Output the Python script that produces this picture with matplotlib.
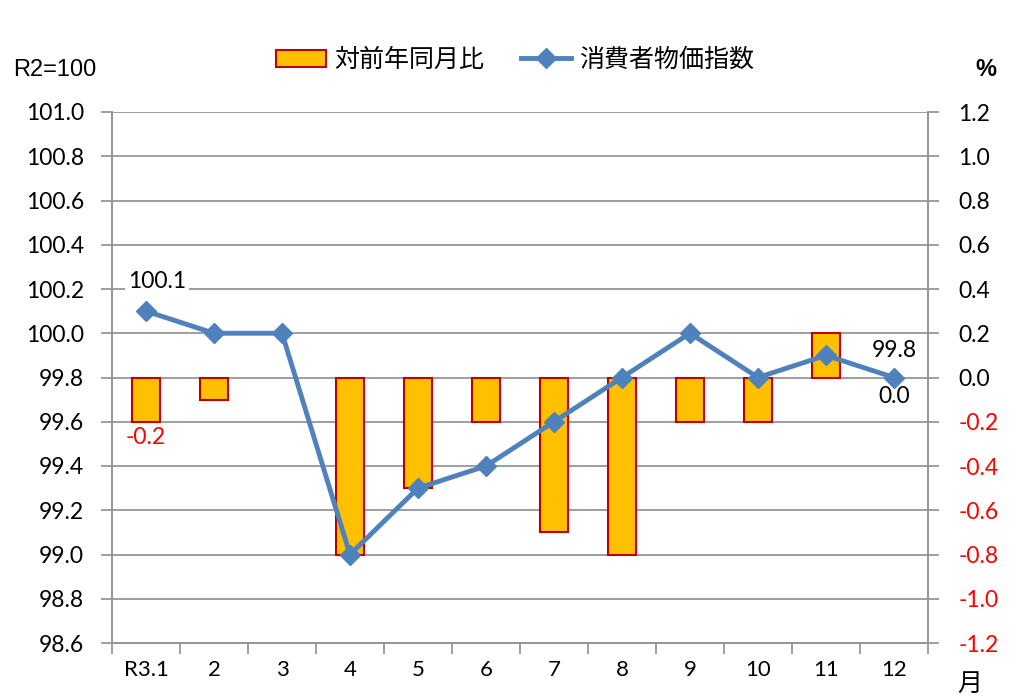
import matplotlib
matplotlib.use("Agg")
import matplotlib.pyplot as plt
import numpy as np

months = ["R3.1", "2", "3", "4", "5", "6", "7", "8", "9", "10", "11", "12"]
yoy = [-0.2, -0.1, 0.0, -0.8, -0.5, -0.2, -0.7, -0.8, -0.2, -0.2, 0.2, 0.0]
cpi = [100.1, 100.0, 100.0, 99.0, 99.3, 99.4, 99.6, 99.8, 100.0, 99.8, 99.9, 99.8]
left_ticks = [98.6, 98.8, 99.0, 99.2, 99.4, 99.6, 99.8, 100.0, 100.2, 100.4, 100.6, 100.8, 101.0]
right_ticks = [-1.2, -1.0, -0.8, -0.6, -0.4, -0.2, 0.0, 0.2, 0.4, 0.6, 0.8, 1.0, 1.2]

NUM = ["Lato", "DejaVu Sans"]
CJK = ["Noto Sans CJK JP", "DejaVu Sans"]
plt.rcParams['font.family'] = NUM

fig = plt.figure(figsize=(10.18, 6.98), dpi=100)
ax = fig.add_axes([112/1018, 55/698, (928-112)/1018, (643-112)/698])
ax2 = ax.twinx()

x = np.arange(len(months))
grid_c = "#969696"

# bars on right axis
bars = ax2.bar(x, yoy, width=0.41, color="#FFC000", edgecolor="#C00000", linewidth=1.5, zorder=2,
               label="対前年同月比")
for b, v in zip(bars, yoy):
    if v == 0:
        b.set_linewidth(0)
ax2.set_ylim(-1.2, 1.2)
ax2.set_yticks(right_ticks)
ax2.set_yticklabels([f"{v:.1f}" for v in right_ticks])
for t, v in zip(ax2.get_yticklabels(), right_ticks):
    if v < 0:
        t.set_color("#FF0000")

# line on left axis
ax.set_zorder(ax2.get_zorder() + 1)
ax.patch.set_visible(False)
line, = ax.plot(x, cpi, color="#4F81BD", linewidth=3.5, marker="D", markersize=10,
                markerfacecolor="#4F81BD", markeredgecolor="#4F81BD", zorder=5, label="消費者物価指数")
ax.set_ylim(98.6, 101.0)
ax.set_yticks(left_ticks)
ax.set_yticklabels([f"{v:.1f}" for v in left_ticks])
ax.set_xlim(-0.5, len(months) - 0.5)

# gridlines drawn on the bar axis (behind)
for v in right_ticks:
    ax2.axhline(v, color=grid_c, linewidth=1.3, zorder=0)

ax.set_xticks(x)
ax.set_xticklabels(months)
ax.set_xticks(np.arange(-0.5, len(months)), minor=True)
ax.tick_params(axis="x", which="major", length=0, labelsize=16, pad=12)
ax.tick_params(axis="x", which="minor", length=8, width=1.3, color=grid_c)
ax.tick_params(axis="y", length=8, width=1.3, color=grid_c, labelsize=16.5, pad=12)
ax2.tick_params(axis="y", length=8, width=1.3, color=grid_c, labelsize=16.5, pad=14)

for a in (ax, ax2):
    a.spines["top"].set_visible(False)
    for s in ("left", "right", "bottom"):
        a.spines[s].set_color(grid_c)
        a.spines[s].set_linewidth(1.3)

# data labels
ax.annotate(f"{cpi[0]:.1f}", (x[0], cpi[0]), xytext=(8, 14), textcoords="offset points",
            ha="center", va="bottom", fontsize=16.5,
            bbox=dict(facecolor="white", edgecolor="none", pad=2))
ax.annotate(f"{cpi[-1]:.1f}", (x[-1], cpi[-1]), xytext=(0, 12), textcoords="offset points",
            ha="center", va="bottom", fontsize=16.5)
ax2.annotate(f"{yoy[0]:.1f}", (x[0], yoy[0]), xytext=(0, -4), textcoords="offset points",
             ha="center", va="top", fontsize=16.5, color="#FF0000")
ax2.annotate(f"{yoy[-1]:.1f}", (x[-1], yoy[-1]), xytext=(0, -6), textcoords="offset points",
             ha="center", va="top", fontsize=16.5)

# legend
fig.legend(handles=[bars, line], labels=["対前年同月比", "消費者物価指数"],
           loc="center", bbox_to_anchor=(515/1018, 1 - 60/698), ncol=2, frameon=False,
           prop={"family": CJK, "size": 18}, handlelength=2.0, columnspacing=1.5,
           handletextpad=0.3)

fig.text(55/1018, 1 - 70/698, "R2=100", fontsize=17, ha="center", va="center",
         family=["Liberation Sans", "DejaVu Sans"])
fig.text(986/1018, 1 - 70/698, "%", fontsize=17, ha="center", va="center",
         family=["Liberation Sans", "DejaVu Sans"], weight="bold")
fig.text(970/1018, 1 - 684/698, "月", fontsize=18, ha="center", va="center", family=CJK)

fig.savefig("out.png", dpi=100)
